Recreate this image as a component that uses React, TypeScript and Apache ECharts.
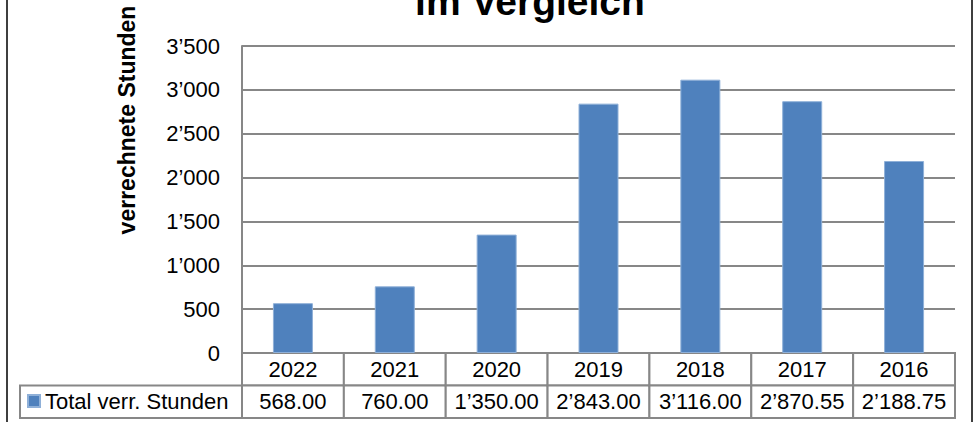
import React, { useEffect, useRef } from "react";
import * as echarts from "echarts";

const categories = ["2022", "2021", "2020", "2019", "2018", "2017", "2016"];
const values = [568.0, 760.0, 1350.0, 2843.0, 3116.0, 2870.55, 2188.75];
const seriesName = "Total verr. Stunden";
const yMin = 0;
const yMax = 3500;
const yInterval = 500;
const titleText = "im Vergleich";
const yAxisTitle = "verrechnete Stunden";

const FONT = "'Liberation Sans', Arial, Helvetica, sans-serif";
const GRID_COLOR = "#878787";
const BAR_COLOR = "#4F81BD";

function fmtThousands(v: number, decimals: number): string {
  const s = v.toFixed(decimals);
  const [intPart, dec] = s.split(".");
  const withSep = intPart.replace(/\B(?=(\d{3})+(?!\d))/g, "\u2019");
  return dec !== undefined ? withSep + "." + dec : withSep;
}

export default function App() {
  const ref = useRef<HTMLDivElement>(null);

  useEffect(() => {
    if (!ref.current) return;
    const chart = echarts.init(ref.current, undefined, { renderer: "svg" });

    const gridLeft = 242;
    const gridRight = 25;
    const plotTop = 46;
    const tableTop = 353;
    const tableHeight = 65;

    const option: any = {
      animation: false,
      backgroundColor: "#ffffff",
      textStyle: { fontFamily: FONT },
      legend: {
        data: [seriesName],
        left: 27,
        top: 390,
        padding: 0,
        icon: "rect",
        itemWidth: 12,
        itemHeight: 12,
        selectedMode: false,
        textStyle: { fontSize: 22, color: "#000", fontFamily: FONT },
      },
      grid: [
        { left: gridLeft, right: gridRight, top: plotTop, bottom: 422 - tableTop },
        { left: gridLeft, right: gridRight, top: tableTop, height: tableHeight },
      ],
      xAxis: [
        {
          gridIndex: 0,
          type: "category",
          data: categories,
          axisLine: { show: false },
          axisTick: { show: false },
          axisLabel: { show: false },
        },
        {
          gridIndex: 1,
          type: "category",
          data: categories,
          show: false,
        },
      ],
      yAxis: [
        {
          gridIndex: 0,
          type: "value",
          min: yMin,
          max: yMax,
          interval: yInterval,
          axisLine: { show: true, lineStyle: { color: GRID_COLOR, width: 2 } },
          axisTick: { show: false },
          splitLine: { show: true, lineStyle: { color: GRID_COLOR, width: 2 } },
          axisLabel: {
            margin: 22,
            fontSize: 22,
            color: "#000",
            fontFamily: FONT,
            formatter: (v: number) => fmtThousands(v, 0),
          },
        },
        {
          gridIndex: 1,
          type: "value",
          min: 0,
          max: 2,
          show: false,
        },
      ],
      graphic: [
        {
          type: "rect",
          shape: { x: 7, y: -10, width: 965, height: 450 },
          style: { fill: "none", stroke: "#000", lineWidth: 1.5 },
          silent: true,
          z: 0,
        },
        {
          type: "text",
          x: 530,
          y: 1,
          style: {
            text: titleText,
            align: "center",
            verticalAlign: "middle",
            fontSize: 39,
            fontWeight: "bold",
            fontFamily: FONT,
            fill: "#000",
          },
        },
        {
          type: "text",
          x: 127,
          y: 120,
          rotation: Math.PI / 2,
          style: {
            text: yAxisTitle,
            align: "center",
            verticalAlign: "middle",
            fontSize: 23,
            fontWeight: "bold",
            fontFamily: FONT,
            fill: "#000",
          },
        },
        {
          type: "rect",
          shape: { x: 20, y: tableTop + tableHeight / 2, width: gridLeft - 20, height: tableHeight / 2 },
          style: { fill: "none", stroke: GRID_COLOR, lineWidth: 2 },
          silent: true,
        },
      ],
      series: [
        {
          name: seriesName,
          type: "bar",
          xAxisIndex: 0,
          yAxisIndex: 0,
          data: values,
          barWidth: 40,
          itemStyle: { color: BAR_COLOR, borderColor: "#8fb0d8", borderWidth: 1 },
        },
        {
          name: "table",
          type: "custom",
          xAxisIndex: 1,
          yAxisIndex: 1,
          silent: true,
          data: categories.map((c, i) => [i, values[i]]),
          renderItem: (params: any, api: any) => {
            const i = api.value(0);
            const v = api.value(1);
            const w = api.size([1, 0])[0];
            const top = api.coord([i, 2]);
            const mid = api.coord([i, 1]);
            const bot = api.coord([i, 0]);
            const x0 = top[0] - w / 2;
            const cellStyle = { fill: "#fff", stroke: GRID_COLOR, lineWidth: 2 };
            return {
              type: "group",
              children: [
                {
                  type: "rect",
                  shape: { x: x0, y: top[1], width: w, height: mid[1] - top[1] },
                  style: cellStyle,
                },
                {
                  type: "rect",
                  shape: { x: x0, y: mid[1], width: w, height: bot[1] - mid[1] },
                  style: cellStyle,
                },
                {
                  type: "text",
                  style: {
                    text: categories[i],
                    x: top[0],
                    y: (top[1] + mid[1]) / 2,
                    align: "center",
                    verticalAlign: "middle",
                    fontSize: 22,
                    fontFamily: FONT,
                    fill: "#000",
                  },
                },
                {
                  type: "text",
                  style: {
                    text: fmtThousands(v, 2),
                    x: top[0],
                    y: (mid[1] + bot[1]) / 2,
                    align: "center",
                    verticalAlign: "middle",
                    fontSize: 22,
                    fontFamily: FONT,
                    fill: "#000",
                  },
                },
              ],
            };
          },
        },
      ],
    };

    chart.setOption(option);
    return () => chart.dispose();
  }, []);

  return <div ref={ref} style={{ width: 980, height: 422, position: "absolute", left: 0, top: 0 }} />;
}
